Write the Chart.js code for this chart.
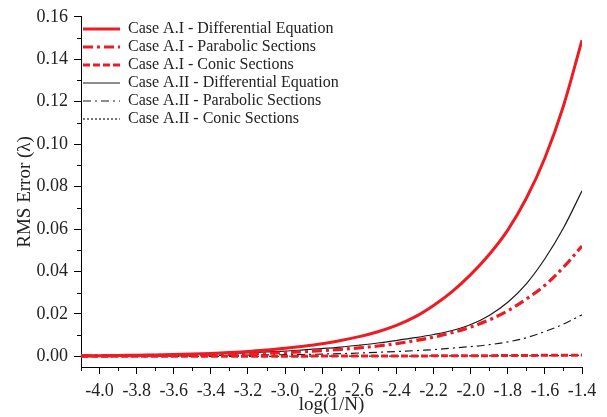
<!DOCTYPE html>
<html>
<head>
<meta charset="utf-8">
<script src="https://cdn.jsdelivr.net/npm/chart.js@4.4.1/dist/chart.umd.min.js"></script>
<style>
  html, body { margin: 0; padding: 0; background: #fff; }
  #wrap { width: 607px; height: 417px; }
</style>
</head>
<body>
<div id="wrap"><canvas id="c" width="607" height="417"></canvas></div>
<script>
// ---- data ----
const logN = [-4.1,-4.0,-3.9,-3.8,-3.7,-3.6,-3.5,-3.4,-3.3,-3.2,-3.1,-3.0,-2.9,-2.8,-2.7,-2.6,-2.5,-2.4,-2.3,-2.2,-2.1,-2.0,-1.9,-1.8,-1.7,-1.6,-1.5,-1.4];

const caseAI_DE   = [0.0003,0.00035,0.00045,0.00055,0.0007,0.0009,0.0011,0.0014,0.0018,0.0023,0.0030,0.0038,0.0048,0.0060,0.0075,0.0093,0.0116,0.0146,0.0186,0.0240,0.0305,0.0385,0.0480,0.0595,0.0745,0.0935,0.1180,0.1490];
const caseAI_PS   = [0.0002,0.00025,0.0003,0.00035,0.00045,0.00055,0.00065,0.0008,0.0010,0.0012,0.0015,0.0018,0.0022,0.0027,0.0033,0.0040,0.0049,0.0060,0.0074,0.0091,0.0112,0.0138,0.0172,0.0215,0.0270,0.0335,0.0420,0.0520];
const caseAI_CS   = [0.0001,0.0001,0.0001,0.0001,0.0001,0.0001,0.0001,0.0001,0.0001,0.0001,0.0001,0.0001,0.0001,0.00015,0.00015,0.00015,0.0002,0.0002,0.0002,0.00025,0.0003,0.0003,0.00035,0.0004,0.00045,0.0005,0.00055,0.0006];
const caseAII_DE  = [0.00025,0.0003,0.00035,0.00045,0.00055,0.0007,0.0009,0.0011,0.0014,0.0017,0.0021,0.0025,0.0031,0.0037,0.0044,0.0053,0.0063,0.0075,0.0088,0.0103,0.0122,0.0150,0.0193,0.0255,0.0342,0.0460,0.0605,0.0780];
const caseAII_PS  = [0.0001,0.0001,0.00015,0.0002,0.00025,0.0003,0.00035,0.0004,0.0005,0.0006,0.0007,0.0008,0.0009,0.0011,0.0013,0.0016,0.0019,0.0023,0.0027,0.0032,0.0039,0.0046,0.0055,0.0068,0.0088,0.0117,0.0152,0.0196];
const caseAII_CS  = [0.0,0.0,0.0,0.0,0.0,0.0,0.0,0.0,0.00005,0.00005,0.00005,0.00005,0.0001,0.0001,0.0001,0.0001,0.00015,0.00015,0.00015,0.0002,0.0002,0.00025,0.00025,0.0003,0.0003,0.00035,0.0004,0.00045];

const seriesLabels = [
  'Case A.I - Differential Equation',
  'Case A.I - Parabolic Sections',
  'Case A.I - Conic Sections',
  'Case A.II - Differential Equation',
  'Case A.II - Parabolic Sections',
  'Case A.II - Conic Sections'
];

const xTickValues = [-4.0,-3.8,-3.6,-3.4,-3.2,-3.0,-2.8,-2.6,-2.4,-2.2,-2.0,-1.8,-1.6,-1.4];
const xMinorTicks = [-4.1,-3.9,-3.7,-3.5,-3.3,-3.1,-2.9,-2.7,-2.5,-2.3,-2.1,-1.9,-1.7,-1.5];
const yTickValues = [0.00,0.02,0.04,0.06,0.08,0.10,0.12,0.14,0.16];
const yMinorTicks = [0.01,0.03,0.05,0.07,0.09,0.11,0.13,0.15];

// ---- styles ----
const RED = '#ec1c24';
const BLK = '#1a1a1a';
const FONT = 'Liberation Serif';

function pts(arr) { return logN.map((x, i) => ({ x: x, y: arr[i] })); }

const datasets = [
  { label: seriesLabels[0], data: pts(caseAI_DE),  borderColor: RED, borderWidth: 3,   borderDash: [] },
  { label: seriesLabels[1], data: pts(caseAI_PS),  borderColor: RED, borderWidth: 3.2, borderDash: [10, 4, 3, 4] },
  { label: seriesLabels[2], data: pts(caseAI_CS),  borderColor: RED, borderWidth: 3,   borderDash: [7, 3] },
  { label: seriesLabels[3], data: pts(caseAII_DE), borderColor: BLK, borderWidth: 1.2, borderDash: [] },
  { label: seriesLabels[4], data: pts(caseAII_PS), borderColor: BLK, borderWidth: 1.2, borderDash: [8, 4, 2, 4] },
  { label: seriesLabels[5], data: pts(caseAII_CS), borderColor: BLK, borderWidth: 1.2, borderDash: [2, 2] }
].map(d => Object.assign(d, {
  pointRadius: 0, fill: false, tension: 0.35, backgroundColor: d.borderColor
}));

const minorTicks = {
  id: 'minorTicks',
  afterDraw(chart) {
    const ctx = chart.ctx;
    const xs = chart.scales.x, ys = chart.scales.y;
    ctx.save();
    ctx.strokeStyle = '#000';
    ctx.lineWidth = 1;
    ctx.beginPath();
    xMinorTicks.forEach(v => {
      const px = Math.round(xs.getPixelForValue(v)) + 0.5;
      ctx.moveTo(px, xs.top);
      ctx.lineTo(px, xs.top + 4);
    });
    yMinorTicks.forEach(v => {
      const py = Math.round(ys.getPixelForValue(v)) + 0.5;
      ctx.moveTo(ys.right, py);
      ctx.lineTo(ys.right - 4, py);
    });
    ctx.stroke();
    ctx.restore();
  }
};

new Chart(document.getElementById('c'), {
  type: 'line',
  data: { datasets },
  options: {
    responsive: false,
    animation: false,
    devicePixelRatio: 1,
    layout: { padding: { left: 0, right: 25, top: 16, bottom: 0 } },
    plugins: {
      tooltip: { enabled: false },
      legend: {
        position: 'chartArea',
        align: 'start',
        title: {
          display: true, text: ' ',
          font: { family: FONT, size: 10 },
          padding: { top: 7, bottom: 0 }
        },
        labels: {
          font: { family: FONT, size: 16 },
          color: '#222',
          usePointStyle: true,
          pointStyleWidth: 37,
          padding: 2,
          generateLabels: (chart) => chart.data.datasets.map((ds, i) => ({
            text: ds.label,
            strokeStyle: ds.borderColor,
            fillStyle: ds.borderColor,
            lineWidth: ds.borderWidth,
            lineDash: ds.borderDash,
            lineCap: 'butt',
            pointStyle: 'line',
            fontColor: '#222',
            hidden: false,
            datasetIndex: i
          }))
        }
      }
    },
    scales: {
      x: {
        type: 'linear',
        min: -4.1,
        max: -1.4,
        afterBuildTicks: (s) => { s.ticks = xTickValues.map(v => ({ value: v })); },
        afterFit: (s) => { s.height = 50; },
        ticks: {
          autoSkip: false, maxRotation: 0, padding: 6,
          font: { family: FONT, size: 18 }, color: '#222',
          callback: (v) => Number(v).toFixed(1)
        },
        grid: { drawOnChartArea: false, drawTicks: true, tickLength: 7, color: '#000' },
        border: { display: true, color: '#000', width: 1 },
        title: {
          display: true, text: 'log(1/N)',
          font: { family: FONT, size: 19 }, color: '#222',
          padding: { top: 0, bottom: 1 }
        }
      },
      y: {
        type: 'linear',
        min: -0.005,
        max: 0.16,
        afterBuildTicks: (s) => { s.ticks = yTickValues.map(v => ({ value: v })); },
        afterFit: (s) => { s.width = 81; },
        ticks: {
          padding: 6,
          font: { family: FONT, size: 18 }, color: '#222',
          callback: (v) => Number(v).toFixed(2)
        },
        grid: { drawOnChartArea: false, drawTicks: true, tickLength: 7, color: '#000' },
        border: { display: true, color: '#000', width: 1 },
        title: {
          display: true, text: 'RMS Error (λ)',
          font: { family: FONT, size: 19 }, color: '#222',
          padding: { top: 14, bottom: 0 }
        }
      }
    }
  },
  plugins: [minorTicks]
});
</script>
</body>
</html>
